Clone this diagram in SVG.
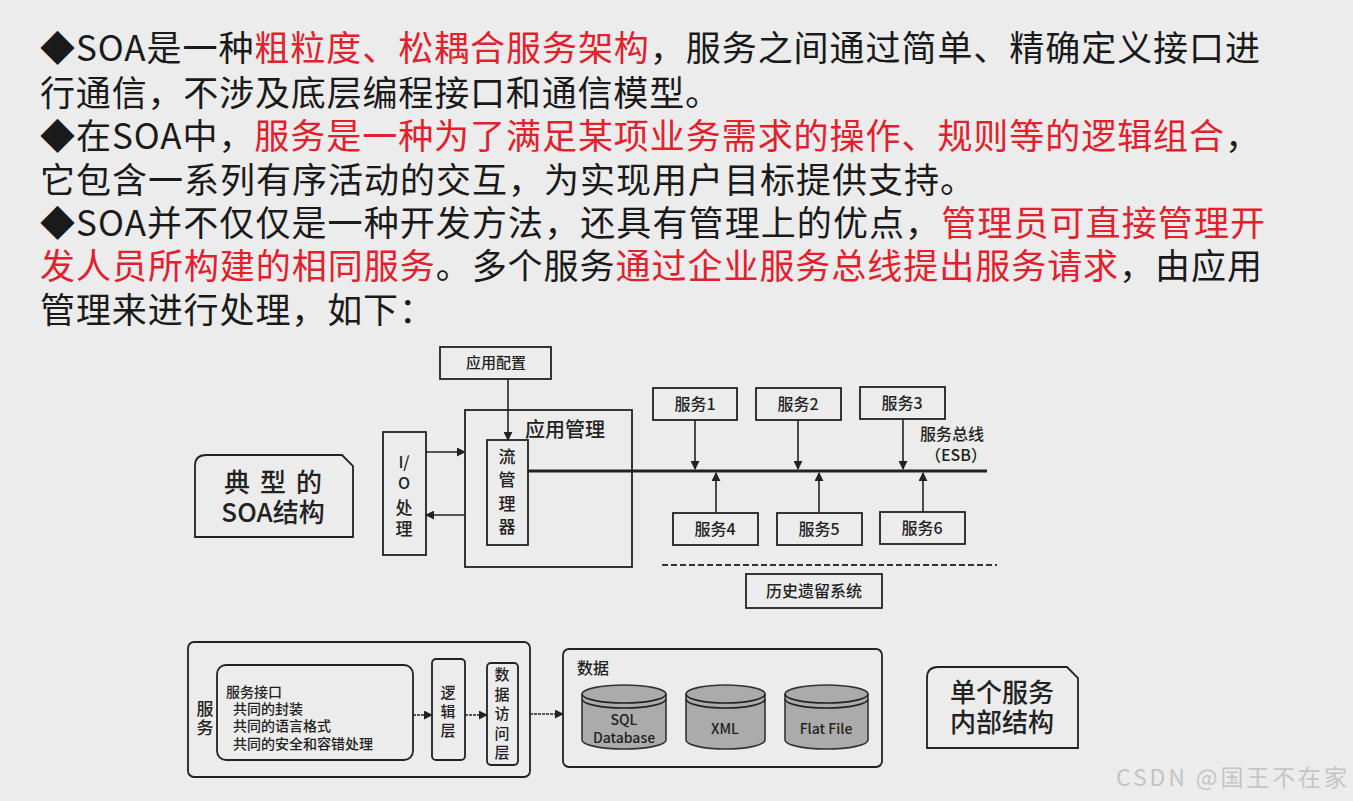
<svg xmlns="http://www.w3.org/2000/svg" width="1353" height="801" viewBox="0 0 1353 801">
<defs>
<style>
.t{font-family:"Noto Sans CJK SC","Noto Sans",sans-serif;font-size:35px;fill:#1a1a1a}
.r{fill:#e3202c}
.d{font-family:"Noto Sans CJK SC","Noto Sans",sans-serif;fill:#222;font-weight:500}
.v{writing-mode:vertical-rl;text-anchor:middle}
.box{fill:none;stroke:#222;stroke-width:1.8}
.ln{stroke:#222;stroke-width:1.6;fill:none}
.cyl{fill:#ababab;stroke:#333;stroke-width:1.6}
</style>
<marker id="ah" viewBox="0 0 10 10" refX="9" refY="5" markerWidth="9" markerHeight="9" markerUnits="userSpaceOnUse" orient="auto">
<path d="M0,0 L10,5 L0,10 Z" fill="#222"/>
</marker>
</defs>
<rect x="0" y="0" width="1353" height="801" fill="#ececec"/>

<g id="paragraph">
<text class="t" x="40" y="61" textLength="1220" lengthAdjust="spacing">◆SOA是一种<tspan class="r">粗粒度、松耦合服务架构</tspan>，服务之间通过简单、精确定义接口进</text>
<text class="t" x="40" y="106" textLength="680" lengthAdjust="spacing">行通信，不涉及底层编程接口和通信模型。</text>
<text class="t" x="40" y="149" textLength="1220" lengthAdjust="spacing">◆在SOA中，<tspan class="r">服务是一种为了满足某项业务需求的操作、规则等的逻辑组合</tspan>，</text>
<text class="t" x="40" y="193" textLength="935" lengthAdjust="spacing">它包含一系列有序活动的交互，为实现用户目标提供支持。</text>
<text class="t" x="40" y="236" textLength="1225" lengthAdjust="spacing">◆SOA并不仅仅是一种开发方法，还具有管理上的优点，<tspan class="r">管理员可直接管理开</tspan></text>
<text class="t" x="40" y="279" textLength="1222" lengthAdjust="spacing"><tspan class="r">发人员所构建的相同服务</tspan>。多个服务<tspan class="r">通过企业服务总线提出服务请求</tspan>，由应用</text>
<text class="t" x="40" y="323" textLength="394" lengthAdjust="spacing">管理来进行处理，如下：</text>
</g>

<g id="connectors">
<line class="ln" x1="508" y1="379" x2="508" y2="440" marker-end="url(#ah)"/>
<line class="ln" x1="426" y1="452" x2="465" y2="452" marker-end="url(#ah)"/>
<line class="ln" x1="465" y1="515" x2="426" y2="515" marker-end="url(#ah)"/>
<line x1="528" y1="471" x2="987" y2="471" stroke="#222" stroke-width="3.2"/>
<line class="ln" x1="695" y1="420" x2="695" y2="469" marker-end="url(#ah)"/>
<line class="ln" x1="798" y1="420" x2="798" y2="469" marker-end="url(#ah)"/>
<line class="ln" x1="903" y1="419" x2="903" y2="469" marker-end="url(#ah)"/>
<line class="ln" x1="716" y1="513" x2="716" y2="473" marker-end="url(#ah)"/>
<line class="ln" x1="819" y1="513" x2="819" y2="473" marker-end="url(#ah)"/>
<line class="ln" x1="923" y1="512" x2="923" y2="473" marker-end="url(#ah)"/>
<line x1="662" y1="565" x2="997" y2="565" stroke="#333" stroke-width="2.2" stroke-dasharray="6 3"/>
<line class="ln" x1="413" y1="715" x2="432" y2="715" stroke-dasharray="3 1" marker-end="url(#ah)"/>
<line class="ln" x1="465" y1="715" x2="487" y2="715" stroke-dasharray="3 1" marker-end="url(#ah)"/>
<line class="ln" x1="530" y1="714" x2="563" y2="714" stroke-dasharray="3 1" marker-end="url(#ah)"/>
</g>

<g id="typical-soa-label">
<path class="box" d="M195,537 V466 Q195,455 206,455 H342 L353,466 V537 Z"/>
<text class="d" font-size="26" text-anchor="middle"><tspan x="278" y="492" letter-spacing="10">典型的</tspan><tspan x="273" y="522">SOA结构</tspan></text>
</g>

<g id="app-config">
<rect class="box" x="440" y="347" width="111" height="32"/>
<text class="d" x="496" y="368" font-size="15" text-anchor="middle">应用配置</text>
</g>

<g id="app-management">
<rect class="box" x="465" y="410" width="167" height="157"/>
<text class="d" x="525" y="437" font-size="20">应用管理</text>
</g>

<g id="flow-manager">
<rect class="box" x="487" y="440" width="41" height="105"/>
<text class="d v" x="507" y="495" font-size="17" letter-spacing="6.5">流管理器</text>
</g>

<g id="io">
<rect class="box" x="383" y="432" width="43" height="123"/>
<text class="d" font-size="16" text-anchor="middle"><tspan x="404" y="468">I/</tspan><tspan x="404" y="489">O</tspan></text>
<text class="d v" x="404" y="520" font-size="17" letter-spacing="4">处理</text>
</g>

<g id="svc1"><rect class="box" x="653" y="388" width="84" height="32"/><text class="d" x="695" y="410" font-size="16" text-anchor="middle">服务1</text></g>
<g id="svc2"><rect class="box" x="756" y="388" width="85" height="32"/><text class="d" x="798" y="410" font-size="16" text-anchor="middle">服务2</text></g>
<g id="svc3"><rect class="box" x="860" y="387" width="85" height="32"/><text class="d" x="902" y="409" font-size="16" text-anchor="middle">服务3</text></g>
<g id="svc4"><rect class="box" x="673" y="513" width="85" height="32"/><text class="d" x="715" y="535" font-size="16" text-anchor="middle">服务4</text></g>
<g id="svc5"><rect class="box" x="777" y="513" width="85" height="32"/><text class="d" x="819" y="535" font-size="16" text-anchor="middle">服务5</text></g>
<g id="svc6"><rect class="box" x="880" y="512" width="85" height="32"/><text class="d" x="922" y="534" font-size="16" text-anchor="middle">服务6</text></g>

<g id="esb-label">
<text class="d" font-size="16"><tspan x="920" y="440">服务总线</tspan><tspan x="956" y="461" text-anchor="middle">（ESB）</tspan></text>
</g>

<g id="legacy">
<rect class="box" x="746" y="574" width="136" height="34"/>
<text class="d" x="814" y="597" font-size="16" text-anchor="middle">历史遗留系统</text>
</g>

<g id="service">
<rect class="box" x="188" y="642" width="342" height="135" rx="6"/>
<text class="d v" x="205" y="719" font-size="17" letter-spacing="2">服务</text>
</g>

<g id="service-interface">
<rect class="box" x="217" y="665" width="196" height="95" rx="9"/>
<text class="d" font-size="14"><tspan x="226" y="697">服务接口</tspan><tspan x="233" y="714">共同的封装</tspan><tspan x="233" y="731">共同的语言格式</tspan><tspan x="233" y="749">共同的安全和容错处理</tspan></text>
</g>

<g id="logic-layer">
<rect class="box" x="432" y="659" width="33" height="101" rx="4"/>
<text class="d v" x="448" y="713" font-size="15" letter-spacing="4">逻辑层</text>
</g>

<g id="data-access-layer">
<rect class="box" x="487" y="663" width="31" height="102" rx="4"/>
<text class="d v" x="502" y="716" font-size="15" letter-spacing="4.5">数据访问层</text>
</g>

<g id="data">
<rect class="box" x="563" y="649" width="319" height="118" rx="6"/>
<text class="d" x="577" y="674" font-size="16">数据</text>
</g>

<g id="sql-db">
<path class="cyl" d="M582,694 A42,9 0 0 1 666,694 V740 A42,9 0 0 1 582,740 Z"/>
<path class="ln" d="M582,694 A42,9 0 0 0 666,694 M582,699 A42,9 0 0 0 666,699"/>
<text class="d" font-size="14" text-anchor="middle"><tspan x="624" y="725">SQL</tspan><tspan x="624" y="743">Database</tspan></text>
</g>

<g id="xml">
<path class="cyl" d="M686,694 A39.5,9 0 0 1 765,694 V740 A39.5,9 0 0 1 686,740 Z"/>
<path class="ln" d="M686,694 A39.5,9 0 0 0 765,694 M686,699 A39.5,9 0 0 0 765,699"/>
<text class="d" x="725" y="734" font-size="14" text-anchor="middle">XML</text>
</g>

<g id="flat-file">
<path class="cyl" d="M785,694 A41.5,9 0 0 1 868,694 V740 A41.5,9 0 0 1 785,740 Z"/>
<path class="ln" d="M785,694 A41.5,9 0 0 0 868,694 M785,699 A41.5,9 0 0 0 868,699"/>
<text class="d" x="826" y="734" font-size="14" text-anchor="middle">Flat File</text>
</g>

<g id="single-service-label">
<path class="box" d="M927,748 V678 Q927,667 938,667 H1067 L1078,678 V748 Z"/>
<text class="d" font-size="26" text-anchor="middle"><tspan x="1002" y="702">单个服务</tspan><tspan x="1002" y="732">内部结构</tspan></text>
</g>

<g id="watermark">
<text x="1116" y="786" font-family="'Noto Sans CJK SC','Noto Sans',sans-serif" font-size="23" fill="#c4c4c4" textLength="231" lengthAdjust="spacing">CSDN @国王不在家</text>
</g>
</svg>
